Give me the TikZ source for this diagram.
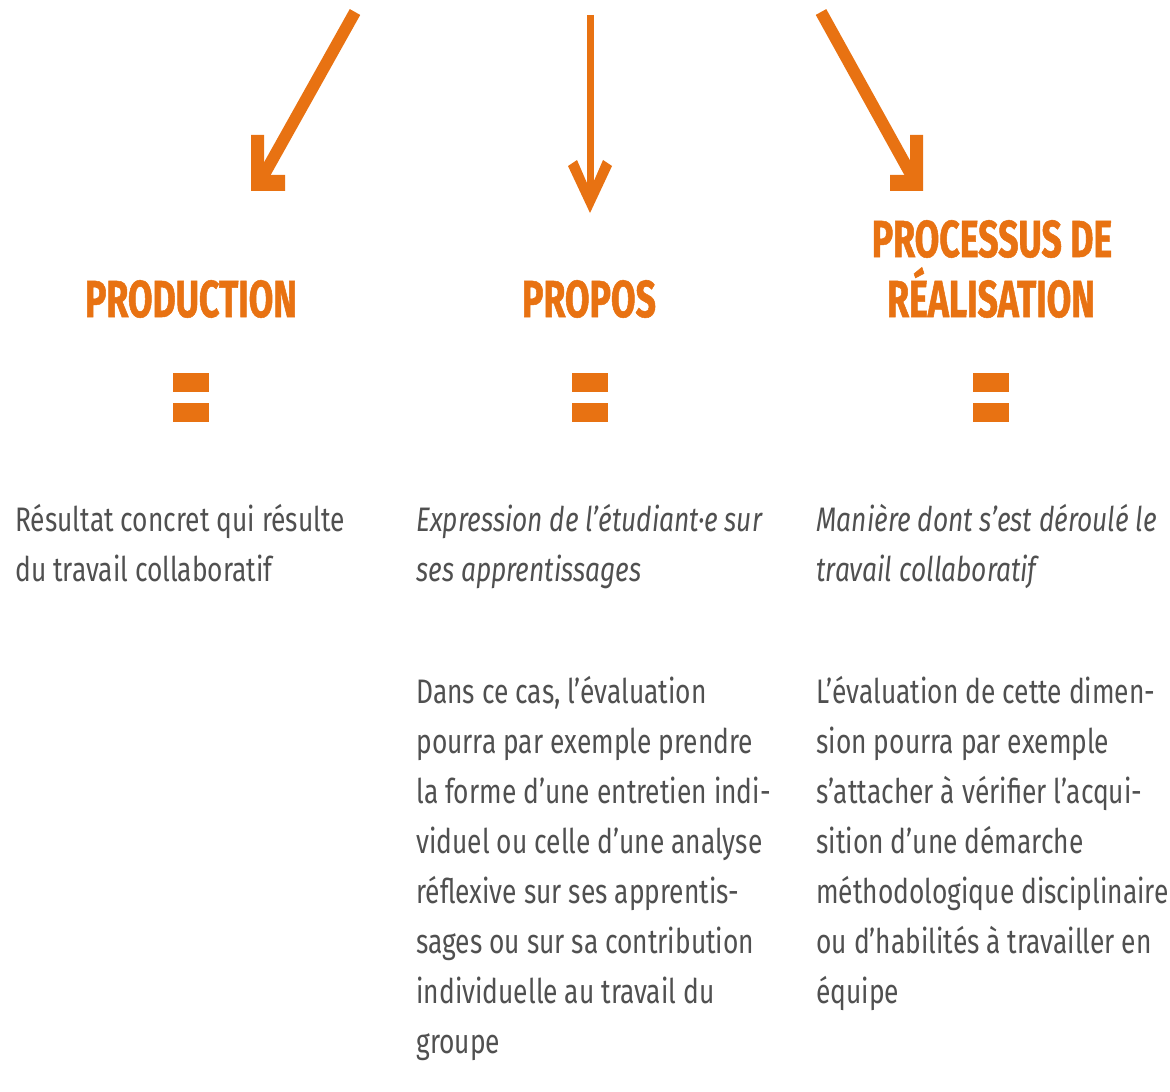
\documentclass[tikz,border=0pt]{standalone}
\usepackage{fontspec}
\setmainfont{Fira Sans}[FakeStretch=0.775]
\newfontfamily\headfont{Fira Sans}[FakeStretch=0.685, FakeBold=1]
\definecolor{orng}{RGB}{232,114,18}
\definecolor{txt}{RGB}{80,80,80}
\begin{document}
\begin{tikzpicture}[x=0.5pt,y=-0.5pt,
  shaft/.style={draw=orng, line width=6pt, line cap=butt},
  title/.style={text=orng, font=\headfont\bfseries\fontsize{26}{30}\selectfont, inner sep=0pt, anchor=base},
  body/.style={text=txt, font=\fontsize{17}{25}\selectfont, inner sep=0pt, anchor=base west},
  ibody/.style={body, font=\itshape\fontsize{17}{25}\selectfont},
  eqbar/.style={fill=orng, draw=none, rectangle, minimum width=18pt, minimum height=9.5pt, inner sep=0pt}]
\useasboundingbox (0,0) rectangle (1170,1091);

% arrows
\coordinate (a1s) at (355,12);
\coordinate (a1t) at (261,180);
\draw[shaft] (a1s) -- (a1t);
\fill[orng] (251,135) -- (264,135) -- (264,175) -- (285,175) -- (285,191) -- (251,191) -- cycle;

\coordinate (a2s) at (590,15);
\coordinate (a2t) at (590,200);
\draw[shaft, line width=3.5pt] (a2s) -- (a2t);
\fill[orng] (568,166) -- (577,160) -- (590,190) -- (603,160) -- (612,166) -- (590,213) -- cycle;

\coordinate (a3s) at (821,12);
\coordinate (a3t) at (914,180);
\draw[shaft] (a3s) -- (a3t);
\fill[orng] (910,135) -- (923,135) -- (923,191) -- (890,191) -- (890,175) -- (910,175) -- cycle;

% titles
\node[title] (prod) at (191,317) {PRODUCTION};
\node[title] (prop) at (589,317) {PROPOS};
\node[title] (proc) at (992,257) {PROCESSUS DE};
\node[title] (real) at (991,317) {RÉALISATION};

% equal signs
\node[eqbar] (e1a) at (191,382.5) {};
\node[eqbar] (e1b) at (191,412) {};
\node[eqbar] (e2a) at (590,382.5) {};
\node[eqbar] (e2b) at (590,412) {};
\node[eqbar] (e3a) at (991,382.5) {};
\node[eqbar] (e3b) at (991,412) {};

% column 1
\node[body] (c1a) at (15,531) {Résultat concret qui résulte};
\node[body] (c1b) at (15,581) {du travail collaboratif};

% column 2
\node[ibody] (c2a) at (416,531) {Expression de l'étudiant·e sur};
\node[ibody] (c2b) at (416,581) {ses apprentissages};
\foreach \t [count=\i from 0] in {{Dans ce cas, l'évaluation},{pourra par exemple prendre},{la forme d'une entretien indi-},{viduel ou celle d'une analyse},{réflexive sur ses apprentis-},{sages ou sur sa contribution},{individuelle au travail du},{groupe}}
  \node[body] (c2p\i) at (416,703+50*\i) {\t};

% column 3
\node[ibody] (c3a) at (816,531) {Manière dont s'est déroulé le};
\node[ibody] (c3b) at (816,581) {travail collaboratif};
\foreach \t [count=\i from 0] in {{L'évaluation de cette dimen-},{sion pourra par exemple},{s'attacher à vérifier l'acqui-},{sition d'une démarche},{méthodologique disciplinaire},{ou d'habilités à travailler en},{équipe}}
  \node[body] (c3p\i) at (816,703+50*\i) {\t};
\end{tikzpicture}
\end{document}
